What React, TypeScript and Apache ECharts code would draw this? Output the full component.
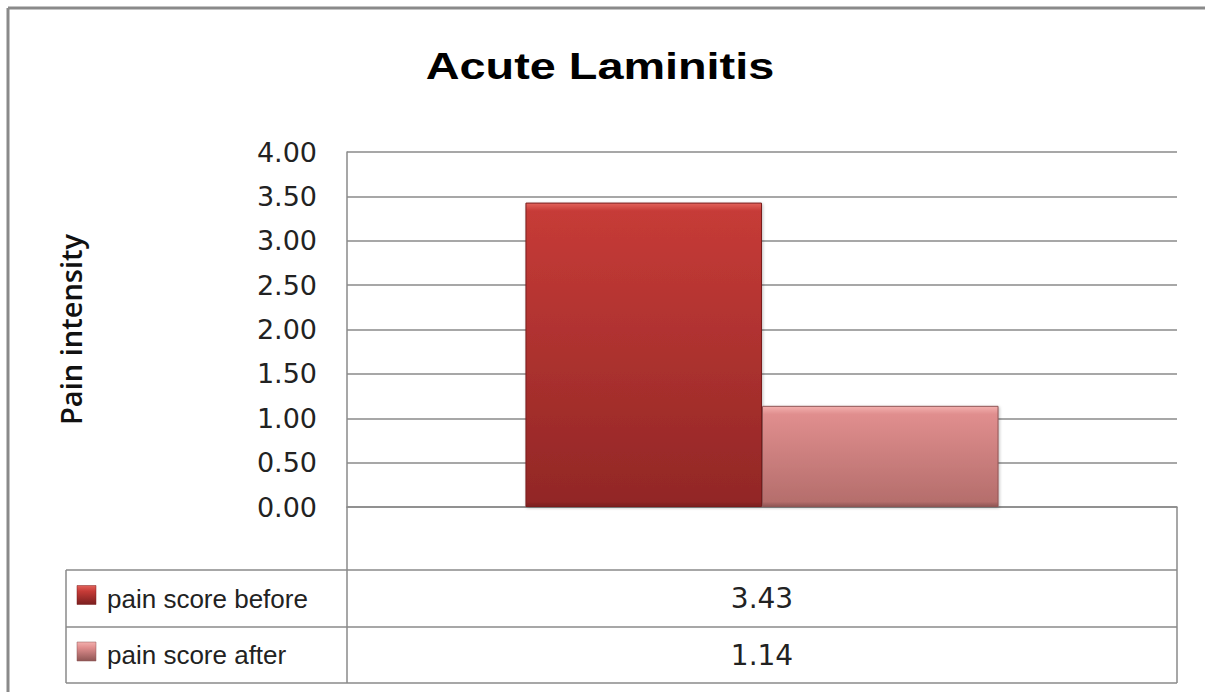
import React, { useEffect, useRef } from "react";
import * as echarts from "echarts";

const titleText = "Acute Laminitis";
const yAxisName = "Pain intensity";
const categories = [""];
const seriesNames = ["pain score before", "pain score after"];
const beforeValues = [3.43];
const afterValues = [1.14];
const yMin = 0;
const yMax = 4;
const yInterval = 0.5;

const seriesValues = [beforeValues, afterValues];
const seriesColors = [
  { hi: "#e2625b", top: "#c63b37", bottom: "#922726", side: "#7a1f1f" },
  { hi: "#f3b0ae", top: "#e08e8e", bottom: "#b56e6c", side: "#8e5554" },
];

const GRID_LEFT = 347;
const GRID_RIGHT_X = 1177;
const GRID_TOP = 152;
const GRID_BOTTOM_Y = 507;
const TABLE_LEFT = 66;
const TABLE_ROWS = [570, 627, 683];
const LINE = "#8a8a8a";

export default function App() {
  const ref = useRef<HTMLDivElement>(null);
  useEffect(() => {
    if (!ref.current) return;
    const chart = echarts.init(ref.current, undefined, { renderer: "svg" });

    const plotH = GRID_BOTTOM_Y - GRID_TOP;
    const series = seriesNames.map((name, i) => {
      const c = seriesColors[i];
      const v = seriesValues[i][0];
      const barPx = (v / (yMax - yMin)) * plotH;
      const b = Math.min(0.3, 8 / barPx);
      return {
        name,
        type: "bar",
        data: seriesValues[i],
        barGap: "0%",
        barCategoryGap: "43%",
        itemStyle: {
          color: new echarts.graphic.LinearGradient(0, 0, 0, 1, [
            { offset: 0, color: c.hi },
            { offset: b, color: c.top },
            { offset: 1 - b * 0.6, color: c.bottom },
            { offset: 1, color: c.side },
          ]),
          borderColor: c.side,
          borderWidth: 1,
          shadowColor: "rgba(0,0,0,0.25)",
          shadowBlur: 3,
          shadowOffsetX: 1,
          shadowOffsetY: 1,
        },
      };
    });

    const graphic: any[] = [];
    // title (slightly stretched horizontally like the reference)
    graphic.push({
      type: "text",
      x: 600,
      y: 48,
      scaleX: 1.3,
      style: {
        text: titleText,
        fontFamily: "Liberation Sans",
        fontWeight: "bold",
        fontSize: 36,
        fill: "#000",
        align: "center",
        verticalAlign: "top",
      },
    });
    // outer frame
    graphic.push({
      type: "line",
      shape: { x1: 8, y1: 8, x2: 1205, y2: 8 },
      style: { stroke: LINE, lineWidth: 3 },
    });
    graphic.push({
      type: "line",
      shape: { x1: 8, y1: 8, x2: 8, y2: 692 },
      style: { stroke: LINE, lineWidth: 3 },
    });
    // table lines
    TABLE_ROWS.forEach((y) => {
      graphic.push({
        type: "line",
        shape: { x1: TABLE_LEFT, y1: y, x2: GRID_RIGHT_X, y2: y },
        style: { stroke: LINE, lineWidth: 1.5 },
      });
    });
    graphic.push({
      type: "line",
      shape: { x1: TABLE_LEFT, y1: TABLE_ROWS[0], x2: TABLE_LEFT, y2: TABLE_ROWS[2] },
      style: { stroke: LINE, lineWidth: 1.5 },
    });
    graphic.push({
      type: "line",
      shape: { x1: GRID_LEFT, y1: GRID_BOTTOM_Y, x2: GRID_LEFT, y2: TABLE_ROWS[2] },
      style: { stroke: LINE, lineWidth: 1.5 },
    });
    graphic.push({
      type: "line",
      shape: { x1: GRID_RIGHT_X, y1: GRID_BOTTOM_Y, x2: GRID_RIGHT_X, y2: TABLE_ROWS[2] },
      style: { stroke: LINE, lineWidth: 1.5 },
    });
    // table rows content
    seriesNames.forEach((name, i) => {
      const c = seriesColors[i];
      const cy = (TABLE_ROWS[i] + TABLE_ROWS[i + 1]) / 2;
      graphic.push({
        type: "rect",
        shape: { x: 77, y: cy - 13, width: 19, height: 19 },
        style: {
          fill: new echarts.graphic.LinearGradient(0, 0, 0, 1, [
            { offset: 0, color: c.hi },
            { offset: 0.3, color: c.top },
            { offset: 1, color: c.side },
          ]),
          stroke: c.side,
          lineWidth: 0.5,
        },
      });
      graphic.push({
        type: "text",
        x: 107,
        y: cy,
        style: {
          text: name,
          fontFamily: "Liberation Sans",
          fontSize: 26,
          fill: "#222",
          verticalAlign: "middle",
          align: "left",
        },
      });
      graphic.push({
        type: "text",
        x: (GRID_LEFT + GRID_RIGHT_X) / 2,
        y: cy,
        style: {
          text: seriesValues[i][0].toFixed(2),
          fontFamily: "DejaVu Sans",
          fontSize: 28,
          fill: "#222",
          verticalAlign: "middle",
          align: "center",
        },
      });
    });

    chart.setOption({
      animation: false,
      backgroundColor: "#fff",
      grid: {
        left: GRID_LEFT,
        right: 1205 - GRID_RIGHT_X,
        top: GRID_TOP,
        bottom: 692 - GRID_BOTTOM_Y,
        containLabel: false,
      },
      xAxis: {
        type: "category",
        data: categories,
        axisLine: { show: true, lineStyle: { color: LINE, width: 1.5 } },
        axisTick: { show: false },
        axisLabel: { show: false },
        splitLine: { show: false },
      },
      yAxis: {
        type: "value",
        min: yMin,
        max: yMax,
        interval: yInterval,
        name: yAxisName,
        nameLocation: "middle",
        nameRotate: 90,
        nameGap: 262,
        nameTextStyle: {
          fontFamily: "Open Sans",
          fontWeight: 600,
          fontSize: 29,
          color: "#111",
        },
        axisLine: { show: true, lineStyle: { color: LINE, width: 1.5 } },
        axisTick: { show: false },
        axisLabel: {
          formatter: (v: number) => v.toFixed(2),
          fontFamily: "DejaVu Sans",
          fontSize: 27,
          color: "#222",
          margin: 30,
        },
        splitLine: { show: true, lineStyle: { color: LINE, width: 1.5 } },
      },
      series,
      graphic,
    });
    return () => chart.dispose();
  }, []);
  return (
    <div
      ref={ref}
      style={{ position: "absolute", left: 0, top: 0, width: 1205, height: 692 }}
    />
  );
}
